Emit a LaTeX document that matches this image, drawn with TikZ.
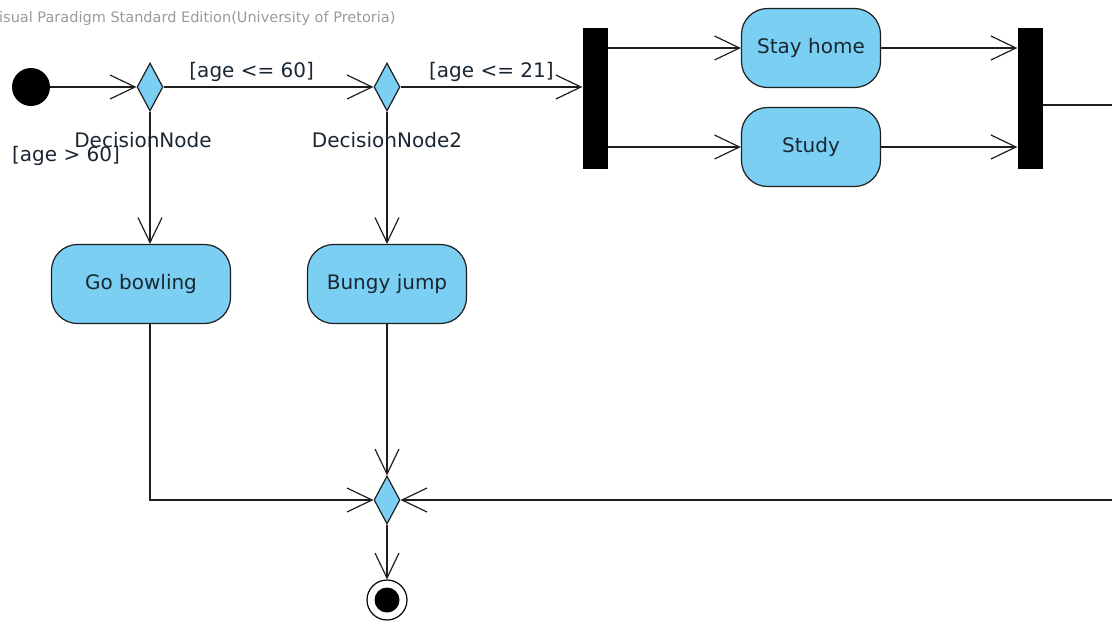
\documentclass[tikz,border=0pt]{standalone}
\usepackage{fontspec}
\setmainfont{DejaVu Sans}
\usetikzlibrary{arrows.meta, positioning, shapes.geometric}
\definecolor{cfill}{HTML}{7ACFF2}
\definecolor{cline}{HTML}{1E1E1E}
\definecolor{ctext}{HTML}{1A2733}
\definecolor{cmark}{HTML}{9A9A9A}

\begin{document}
\begin{tikzpicture}[
  x=1pt, y=-1pt,
  font=\fontsize{20}{23}\selectfont,
  >={Straight Barb[length=25pt, width=24pt, line width=1.2pt]},
  action/.style={draw=cline, line width=1.2pt, fill=cfill, rounded corners=26pt,
                 minimum height=79pt, text=ctext, align=center},
  decision/.style={draw=cline, line width=1.2pt, fill=cfill, diamond, inner sep=0pt,
                   minimum width=26pt, minimum height=48pt},
  bar/.style={fill=black, minimum width=25pt, minimum height=141pt, inner sep=0pt},
  guard/.style={text=ctext, inner sep=1pt},
  arr/.style={->, line width=1.2pt, draw=cline},
  ]
\useasboundingbox (0,0) rectangle (1112,622);
\clip (0,0) rectangle (1112,622);

\node[anchor=west, text=cmark, font=\fontsize{14.5}{16}\selectfont, inner sep=0pt]
  (mark) at (-1,18) {isual Paradigm Standard Edition(University of Pretoria)};

% start, decisions, fork
\node[circle, fill=black, minimum size=38pt, inner sep=0pt] (init) at (31,87) {};
\node[decision] (d1) at (150,87) {};
\node[decision] (d2) at (387,87) {};
\node[bar] (fork) at (595,98) {};

\node[guard, below=19pt of d1, xshift=-7pt] (d1name) {DecisionNode};
\node[guard, below=19pt of d2] (d2name) {DecisionNode2};
\node[guard] (gt60) at (66,156) {[age > 60]};

% actions
\node[action, minimum width=139pt] (stay) at (811,48) {Stay home};
\node[action, minimum width=139pt] (study) at (811,147) {Study};
\node[bar] (join) at (1030,98) {};
\node[action, minimum width=179pt] (bowl) at (141,284) {Go bowling};
\node[action, minimum width=159pt] (bungy) at (387,284) {Bungy jump};

% merge, end
\node[decision] (merge) at (387,500) {};
\node[circle, draw=black, line width=1.2pt, minimum size=40pt, inner sep=0pt] (final) at (387,600) {};
\node[circle, fill=black, minimum size=25pt, inner sep=0pt] at (final) {};
\coordinate (outr) at (1140,105);

\draw[arr] (init) -- (d1);
\draw[arr] (d1) -- node[guard, above=4pt, pos=0.42] {[age <= 60]} (d2);
\draw[arr] (d2) -- node[guard, above=4pt] {[age <= 21]} (d2 -| fork.west);
\draw[arr] (fork.east |- stay) -- (stay);
\draw[arr] (fork.east |- study) -- (study);
\draw[arr] (stay) -- (stay -| join.west);
\draw[arr] (study) -- (study -| join.west);

\draw[arr] (d1.south) -- (d1.south |- bowl.north);
\draw[arr] (d2) -- (bungy);

\draw[arr] (d1.south |- bowl.south) -- (d1.south |- merge) -- (merge);
\draw[arr] (bungy) -- (merge);
\draw[arr] (join.east |- outr) -- (outr) -- (outr |- merge) -- (merge);
\draw[arr] (merge) -- (final);
\end{tikzpicture}
\end{document}
